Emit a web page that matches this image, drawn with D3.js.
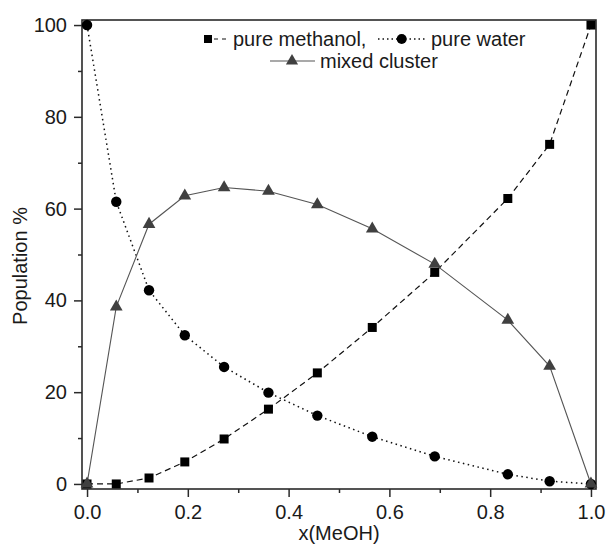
<!DOCTYPE html>
<html lang="en">
<head>
    <meta charset="UTF-8">
    <title>Population % vs x(MeOH)</title>
    <script src="https://d3js.org/d3.v7.min.js"></script>
    <style>
        body {
            margin: 0;
            background: #fff;
            font-family: "Liberation Sans", Arial, sans-serif;
        }
        svg text {
            font-family: "Liberation Sans", Arial, sans-serif;
            fill: #1a1a1a;
        }
    </style>
</head>
<body>
    <svg id="chart" width="608" height="544"></svg>
    <script>
        // mole fraction of methanol
        const xMeOH = [0, 0.058, 0.123, 0.194, 0.272, 0.36, 0.457, 0.566, 0.69, 0.835, 0.918, 1.0];
        const pureMethanol = [0, 0, 1.3, 4.8, 9.8, 16.3, 24.2, 34.1, 46.1, 62.2, 74.0, 100];
        const pureWater = [100, 61.5, 42.2, 32.4, 25.5, 19.9, 14.9, 10.3, 6.0, 2.1, 0.6, 0];
        const mixedCluster = [0, 38.6, 56.6, 62.8, 64.6, 63.8, 60.9, 55.6, 47.9, 35.7, 25.7, 0];

        const xTicks = [0, 0.2, 0.4, 0.6, 0.8, 1.0];
        const xMinor = [0.1, 0.3, 0.5, 0.7, 0.9];
        const yTicks = [0, 20, 40, 60, 80, 100];
        const yMinor = [10, 30, 50, 70, 90];

        const svg = d3.select("#chart");

        const x = d3.scaleLinear().domain([-0.01, 1.01]).range([82, 596]);
        const y = d3.scaleLinear().domain([-1.1, 101.1]).range([489, 20]);

        const axisColor = "#2a2a2a";

        // major + minor ticks
        svg.append("g")
            .attr("transform", `translate(0, ${y.range()[0]})`)
            .call(d3.axisBottom(x).tickValues(xTicks).tickFormat(d3.format(".1f"))
                .tickSize(8).tickSizeOuter(0).tickPadding(8));
        svg.append("g")
            .attr("transform", `translate(0, ${y.range()[0]})`)
            .call(d3.axisBottom(x).tickValues(xMinor).tickFormat("").tickSize(4).tickSizeOuter(0));

        svg.append("g")
            .attr("transform", `translate(${x.range()[0]}, 0)`)
            .call(d3.axisLeft(y).tickValues(yTicks).tickSize(8).tickSizeOuter(0).tickPadding(7));
        svg.append("g")
            .attr("transform", `translate(${x.range()[0]}, 0)`)
            .call(d3.axisLeft(y).tickValues(yMinor).tickFormat("").tickSize(4).tickSizeOuter(0));

        svg.selectAll(".domain").remove();
        svg.selectAll(".tick line").attr("stroke", axisColor).attr("stroke-width", 1.5);
        svg.selectAll(".tick text").style("font-size", "20px").attr("fill", "#1a1a1a");

        // frame
        svg.append("rect")
            .attr("x", x.range()[0])
            .attr("y", y.range()[1])
            .attr("width", x.range()[1] - x.range()[0])
            .attr("height", y.range()[0] - y.range()[1])
            .attr("fill", "none")
            .attr("stroke", axisColor)
            .attr("stroke-width", 1.6);

        // axis titles
        svg.append("text")
            .attr("x", (x.range()[0] + x.range()[1]) / 2)
            .attr("y", 540)
            .attr("text-anchor", "middle")
            .style("font-size", "20px")
            .text("x(MeOH)");

        svg.append("text")
            .attr("transform", "translate(27, 266) rotate(-90)")
            .attr("text-anchor", "middle")
            .style("font-size", "20px")
            .text("Population %");

        const rows = xMeOH.map((v, i) => ({ x: v, m: pureMethanol[i], w: pureWater[i], c: mixedCluster[i] }));

        const line = key => d3.line().x(d => x(d.x)).y(d => y(d[key]));

        // pure methanol: dashed, squares
        svg.append("path").datum(rows)
            .attr("d", line("m"))
            .attr("fill", "none").attr("stroke", "#111").attr("stroke-width", 1.2)
            .attr("stroke-dasharray", "6,4");
        svg.selectAll(".sq").data(rows).enter().append("path")
            .attr("transform", d => `translate(${x(d.x)}, ${y(d.m)})`)
            .attr("d", d3.symbol(d3.symbolSquare, 81))
            .attr("fill", "#000");

        // pure water: dotted, circles
        svg.append("path").datum(rows)
            .attr("d", line("w"))
            .attr("fill", "none").attr("stroke", "#111").attr("stroke-width", 1.5)
            .attr("stroke-dasharray", "1.5,3.5");
        svg.selectAll(".ci").data(rows).enter().append("circle")
            .attr("cx", d => x(d.x)).attr("cy", d => y(d.w)).attr("r", 5.2)
            .attr("fill", "#000");

        // mixed cluster: solid gray, triangles
        svg.append("path").datum(rows)
            .attr("d", line("c"))
            .attr("fill", "none").attr("stroke", "#555").attr("stroke-width", 1.1);
        svg.selectAll(".tr").data(rows).enter().append("path")
            .attr("transform", d => `translate(${x(d.x)}, ${y(d.c)})`)
            .attr("d", d3.symbol(d3.symbolTriangle, 70))
            .attr("fill", "#404040");

        // legend
        const lg = svg.append("g").style("font-size", "20px");
        const r1 = 39, r2 = 61;

        lg.append("path").attr("transform", `translate(208, ${r1})`)
            .attr("d", d3.symbol(d3.symbolSquare, 64)).attr("fill", "#000");
        lg.append("line").attr("x1", 214).attr("x2", 229).attr("y1", r1).attr("y2", r1)
            .attr("stroke", "#111").attr("stroke-width", 1.2).attr("stroke-dasharray", "4,4");
        lg.append("text").attr("x", 233).attr("y", r1 + 7).text("pure methanol,");

        lg.append("line").attr("x1", 378).attr("x2", 425).attr("y1", r1).attr("y2", r1)
            .attr("stroke", "#111").attr("stroke-width", 1.3).attr("stroke-dasharray", "1.5,3");
        lg.append("circle").attr("cx", 401.7).attr("cy", r1).attr("r", 5).attr("fill", "#000");
        lg.append("text").attr("x", 431).attr("y", r1 + 7).text("pure water");

        lg.append("line").attr("x1", 270).attr("x2", 315).attr("y1", r2).attr("y2", r2)
            .attr("stroke", "#555").attr("stroke-width", 1.1);
        lg.append("path").attr("transform", `translate(292, ${r2})`)
            .attr("d", d3.symbol(d3.symbolTriangle, 64)).attr("fill", "#404040");
        lg.append("text").attr("x", 320).attr("y", r2 + 7).text("mixed cluster");
    </script>
</body>
</html>
